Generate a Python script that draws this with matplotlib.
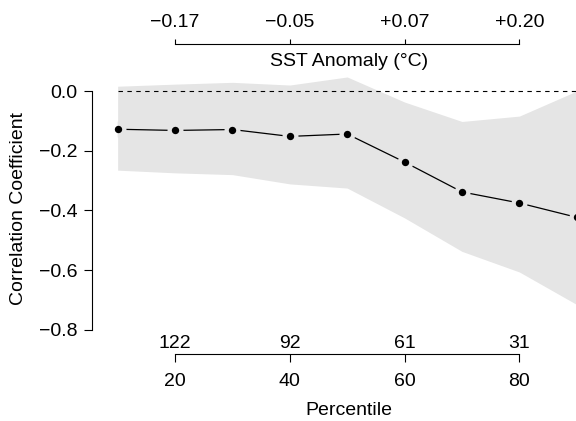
import matplotlib.pyplot as plt

plt.rcParams['font.family'] = ['Liberation Sans', 'DejaVu Sans']
plt.rcParams['font.size'] = 14

# percentile bins, correlation and its confidence band
pct = [10, 20, 30, 40, 50, 60, 70, 80, 90]
corr = [-0.128, -0.132, -0.129, -0.152, -0.144, -0.238, -0.338, -0.375, -0.423]
upper = [0.016, 0.023, 0.029, 0.020, 0.047, -0.037, -0.102, -0.084, 0.000]
lower = [-0.265, -0.274, -0.280, -0.311, -0.325, -0.425, -0.537, -0.606, -0.715]

# labelled axis positions
ticks = [20, 40, 60, 80]
counts = ['122', '92', '61', '31']
sst = ['\u22120.17', '\u22120.05', '+0.07', '+0.20']
yticks = [0.0, -0.2, -0.4, -0.6, -0.8]

band = '#e5e5e5'

fig = plt.figure(figsize=(5.76, 4.21), dpi=100)
left, width = 0.1594, 0.8918

ax = fig.add_axes([left, 0.1808, width, 0.6456])
ax.set_xlim(5.5, 95)
ax.set_ylim(-0.85, 0.06)
poly = ax.fill_between(pct, lower, upper, color=band, lw=0)
ax.hlines(0, pct[0], pct[-1], colors='k', linestyles=(0, (4, 4)), lw=0.8)
ax.plot(pct, corr, color='k', lw=0.9)
# gap around the points, kept inside the band
halo, = ax.plot(pct, corr, 'o', ms=11.5, color=band, mec='none')
halo.set_clip_path(poly.get_paths()[0], ax.transData)
ax.plot(pct, corr, 'o', ms=5.3, color='k', mec='none')

for s in ['top', 'right', 'bottom']:
    ax.spines[s].set_visible(False)
ax.spines['left'].set_bounds(-0.8, 0)
ax.spines['left'].set_linewidth(0.8)
ax.set_xticks([])
ax.set_yticks(yticks, [f'{v:.1f}'.replace('-', '\u2212') for v in yticks])
ax.tick_params(axis='y', length=5.8, width=0.8, pad=4.3)
ax.set_ylabel('Correlation Coefficient', labelpad=9)

# top axis: SST anomaly
axt = fig.add_axes([left, 0.8948, width, 0.001])
axt.patch.set_visible(False)
for s in ['left', 'right', 'bottom']:
    axt.spines[s].set_visible(False)
axt.spines['top'].set_bounds(20, 80)
axt.spines['top'].set_linewidth(0.8)
axt.set_xlim(ax.get_xlim())
axt.set_yticks([])
axt.set_xticks(ticks, sst)
axt.tick_params(axis='x', top=True, labeltop=True, bottom=False, labelbottom=False,
                length=3.6, width=0.8, pad=5.7)
axt.set_xlabel('SST Anomaly (\u00b0C)', labelpad=6.4)

# bottom axis: percentile with counts above
axb = fig.add_axes([left, 0.1584, width, 0.001])
axb.patch.set_visible(False)
for s in ['left', 'right', 'top']:
    axb.spines[s].set_visible(False)
axb.spines['bottom'].set_bounds(20, 80)
axb.spines['bottom'].set_linewidth(0.8)
axb.set_xlim(ax.get_xlim())
axb.set_yticks([])
axb.set_xticks(ticks, [str(t) for t in ticks])
axb.tick_params(axis='x', length=5.8, width=0.8, pad=7.9)
axb.set_xlabel('Percentile', labelpad=8.3)

sec = axb.secondary_xaxis('top')
for s in sec.spines.values():
    s.set_visible(False)
sec.set_xticks(ticks, counts)
sec.tick_params(axis='x', length=0, pad=1.7)

fig.savefig('out.png', dpi=100)
